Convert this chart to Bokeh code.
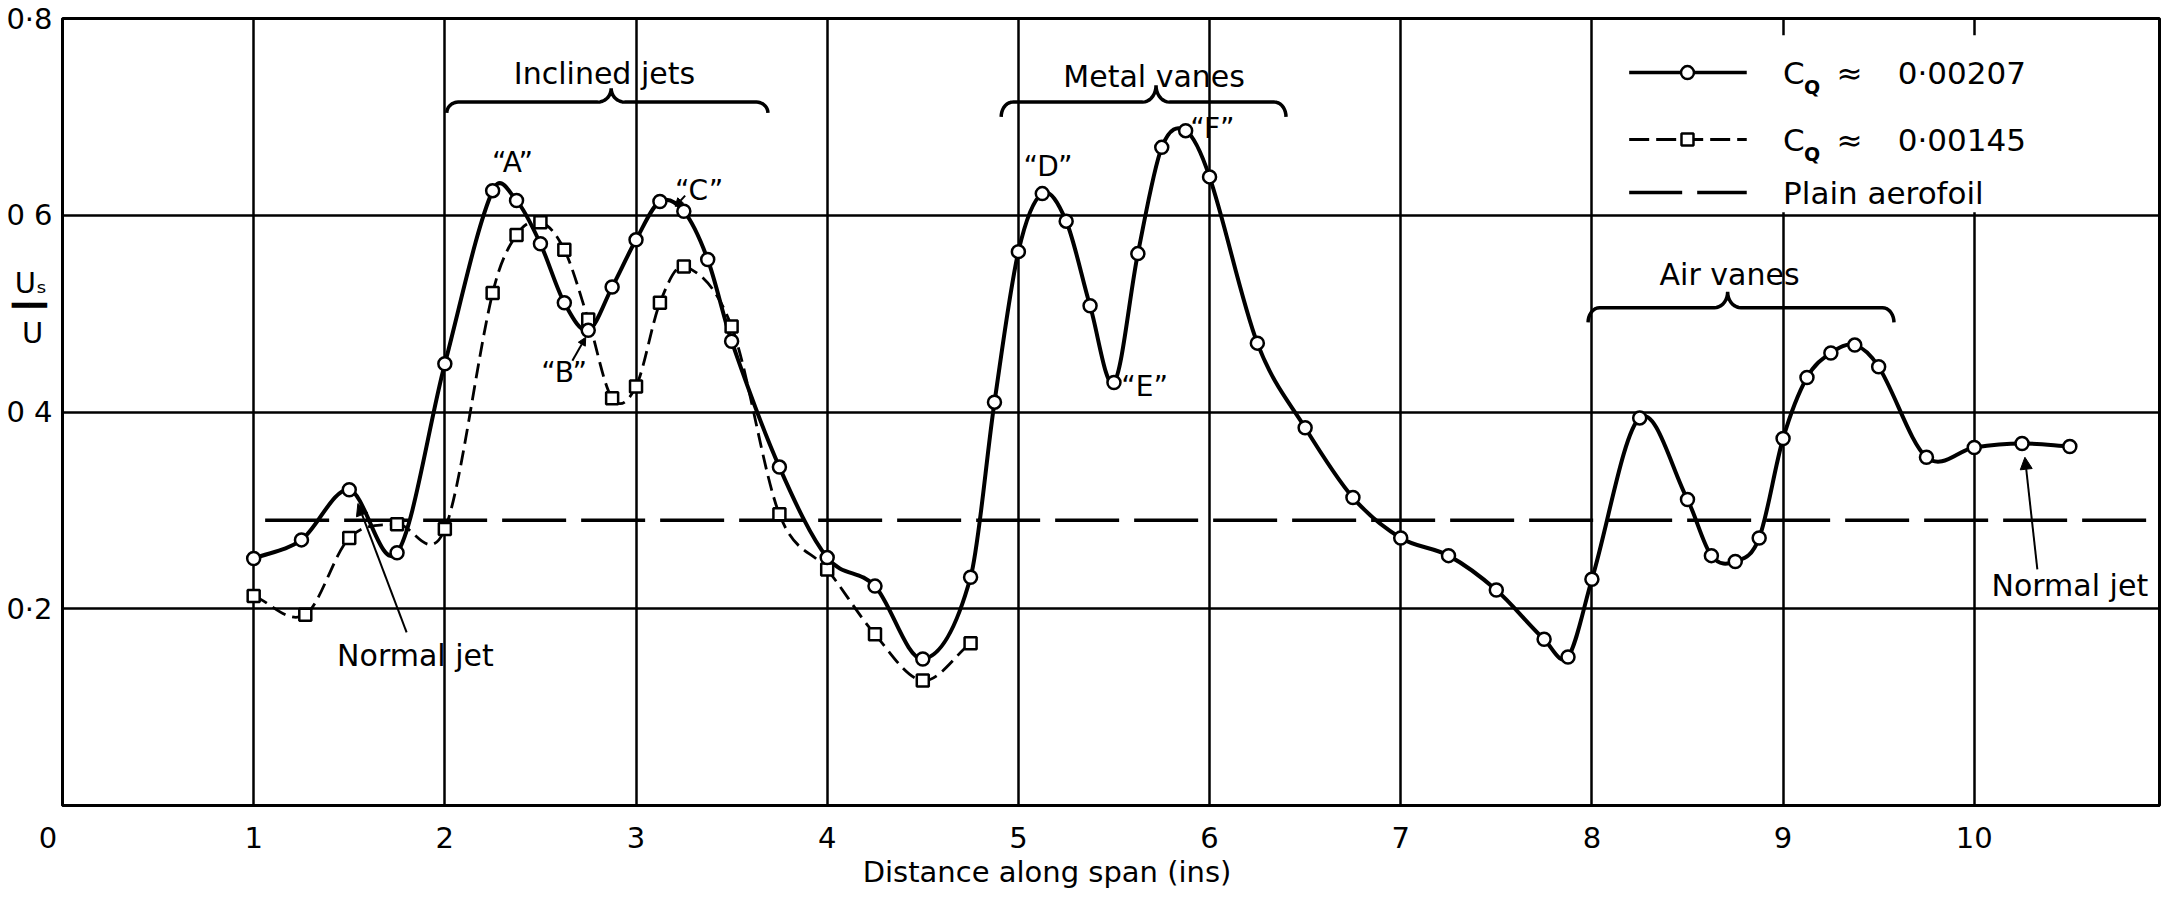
import numpy as np
from bokeh.plotting import figure
from bokeh.models import FixedTicker, Arrow, NormalHead
from bokeh.core.properties import value
from bokeh.embed import file_html
from bokeh.resources import INLINE

FONT = "DejaVu Sans"

# ---------------- data ----------------
# C_Q ~ 0.00207 (solid line, circles)
x_hi = [1.0, 1.25, 1.5, 1.75, 2.0, 2.25, 2.375, 2.5, 2.625, 2.75, 2.875, 3.0, 3.125, 3.25,
        3.375, 3.5, 3.75, 4.0, 4.25, 4.5, 4.75, 4.875, 5.0, 5.125, 5.25, 5.375, 5.5, 5.625,
        5.75, 5.875, 6.0, 6.25, 6.5, 6.75, 7.0, 7.25, 7.5, 7.75, 7.875, 8.0, 8.25, 8.5,
        8.625, 8.75, 8.875, 9.0, 9.125, 9.25, 9.375, 9.5, 9.75, 10.0, 10.25, 10.5]
y_hi = [0.251, 0.270, 0.321, 0.257, 0.449, 0.625, 0.615, 0.571, 0.511, 0.483, 0.527, 0.575,
        0.614, 0.604, 0.555, 0.472, 0.344, 0.252, 0.223, 0.149, 0.232, 0.410, 0.563, 0.622,
        0.594, 0.508, 0.430, 0.561, 0.669, 0.686, 0.639, 0.470, 0.384, 0.313, 0.272, 0.254,
        0.219, 0.169, 0.151, 0.230, 0.394, 0.311, 0.254, 0.248, 0.272, 0.373, 0.435, 0.460,
        0.468, 0.446, 0.354, 0.364, 0.368, 0.365]

# C_Q ~ 0.00145 (dashed line, squares)
x_lo = [1.0, 1.27, 1.5, 1.75, 2.0, 2.25, 2.375, 2.5, 2.625, 2.75, 2.875, 3.0, 3.125, 3.25,
        3.5, 3.75, 4.0, 4.25, 4.5, 4.75]
y_lo = [0.213, 0.194, 0.272, 0.286, 0.281, 0.521, 0.580, 0.593, 0.565, 0.494, 0.414, 0.426,
        0.511, 0.548, 0.487, 0.296, 0.240, 0.174, 0.127, 0.165]

# Plain aerofoil
x_plain = [1.06, 10.92]
y_plain = [0.29, 0.29]

x_ticks = [0, 1, 2, 3, 4, 5, 6, 7, 8, 9, 10]
x_tick_labels = ["0\u2003", "1", "2", "3", "4", "5", "6", "7", "8", "9", "10"]
y_ticks = [0.2, 0.4, 0.6, 0.8]
y_tick_labels = ["0·2", "0 4", "0 6", "0·8"]

# x-axis title, written as a second line under the tick labels
x_title_pos = 5.15
x_title = "Distance along span (ins)"

# y-axis title  U_s / U  (written as labels on the y axis)
y_title_pos = [0.531, 0.509, 0.480]
y_title_parts = ["Uₛ\u2009", "━━\u2009", "U\u00a0"]

legend_values = ["0·00207", "0·00145"]
legend_plain = "Plain  aerofoil"


def smooth_segments(xs, ys):
    xs = np.asarray(xs, float)
    ys = np.asarray(ys, float)
    n = len(xs)
    m = np.zeros(n)
    for i in range(n):
        if i == 0:
            m[i] = (ys[1] - ys[0]) / (xs[1] - xs[0])
        elif i == n - 1:
            m[i] = (ys[-1] - ys[-2]) / (xs[-1] - xs[-2])
        else:
            m[i] = (ys[i + 1] - ys[i - 1]) / (xs[i + 1] - xs[i - 1])
    h = xs[1:] - xs[:-1]
    return dict(x0=xs[:-1], y0=ys[:-1], x1=xs[1:], y1=ys[1:],
                cx0=xs[:-1] + h / 3, cy0=ys[:-1] + m[:-1] * h / 3,
                cx1=xs[1:] - h / 3, cy1=ys[1:] - m[1:] * h / 3)


def brace(xl, xm, xr, y, h, d, rx_end=0.06, rx_mid=0.07):
    xs, ys = [], []
    t = np.linspace(np.pi, np.pi / 2, 10)
    xs += list(xl + rx_end + rx_end * np.cos(t)); ys += list(y - d + d * np.sin(t))
    t = np.linspace(-np.pi / 2, 0, 10)
    xs += list(xm - rx_mid + rx_mid * np.cos(t)); ys += list(y + h + h * np.sin(t))
    t = np.linspace(np.pi, 1.5 * np.pi, 10)
    xs += list(xm + rx_mid + rx_mid * np.cos(t)); ys += list(y + h + h * np.sin(t))
    t = np.linspace(np.pi / 2, 0, 10)
    xs += list(xr - rx_end + rx_end * np.cos(t)); ys += list(y - d + d * np.sin(t))
    return xs, ys


p = figure(width=2161, height=892, x_range=(0, 10.969), y_range=(0, 0.8),
           output_backend="svg", toolbar_location=None,
           min_border_left=62, min_border_right=2, min_border_top=18, min_border_bottom=87)
p.background_fill_color = "white"
p.border_fill_color = "white"
p.outline_line_color = "black"
p.outline_line_width = 3

p.xaxis.ticker = FixedTicker(ticks=x_ticks + [x_title_pos])
xov = {t: l for t, l in zip(x_ticks, x_tick_labels)}
xov[x_title_pos] = "\n" + x_title
p.xaxis.major_label_overrides = xov
p.yaxis.ticker = FixedTicker(ticks=y_ticks + y_title_pos)
ov = {t: l for t, l in zip(y_ticks, y_tick_labels)}
ov.update({t: l for t, l in zip(y_title_pos, y_title_parts)})
p.yaxis.major_label_overrides = ov
for ax in (p.xaxis, p.yaxis):
    ax.major_tick_in = 0
    ax.major_tick_out = 0
    ax.minor_tick_in = 0
    ax.minor_tick_out = 0
    ax.axis_line_color = "black"
    ax.axis_line_width = 3
    ax.major_label_text_font = FONT
    ax.major_label_text_font_size = "29px"
    ax.major_label_text_color = "black"
p.xaxis.major_label_text_line_height = 1.0
p.xaxis.major_label_standoff = 15
p.yaxis.major_label_standoff = 10

p.xgrid.ticker = FixedTicker(ticks=x_ticks)
p.ygrid.ticker = FixedTicker(ticks=y_ticks)
for g in (p.xgrid, p.ygrid):
    g.grid_line_color = "black"
    g.grid_line_width = 2.5
    g.grid_line_alpha = 1.0

# legend box (white cell)
p.quad(left=8.012, right=10.96, bottom=0.603, top=0.783, fill_color="white", line_color=None)

# plain aerofoil
p.line(x_plain, y_plain, line_color="black", line_width=3.5, line_dash="64 15")

# dashed series
seg_lo = smooth_segments(x_lo, y_lo)
p.bezier(source=seg_lo, x0="x0", y0="y0", x1="x1", y1="y1", cx0="cx0", cy0="cy0",
         cx1="cx1", cy1="cy1", line_color="black", line_width=2.8, line_dash="15 7")
# solid series
seg_hi = smooth_segments(x_hi, y_hi)
p.bezier(source=seg_hi, x0="x0", y0="y0", x1="x1", y1="y1", cx0="cx0", cy0="cy0",
         cx1="cx1", cy1="cy1", line_color="black", line_width=4)

p.scatter(x_lo, y_lo, marker="square", size=12, fill_color="white", line_color="black", line_width=2.5)
p.scatter(x_hi, y_hi, marker="circle", size=13, fill_color="white", line_color="black", line_width=2.5)

# braces
for xl, xm, xr, yb, hh, dd in [(2.01, 2.87, 3.69, 0.715, 0.014, 0.011),
                               (4.91, 5.72, 6.40, 0.715, 0.017, 0.015),
                               (7.98, 8.71, 9.58, 0.506, 0.016, 0.015)]:
    bx, by = brace(xl, xm, xr, yb, hh, dd)
    p.line(bx, by, line_color="black", line_width=3.5)

# annotation texts
p.text(x=[2.835, 5.71, 8.72], y=[0.744, 0.741, 0.540],
       text=["Inclined jets", "Metal vanes", "Air vanes"],
       text_font=value(FONT), text_font_size="30px", text_align="center",
       text_baseline="middle", text_color="black")
p.text(x=[2.354, 2.624, 3.33, 5.155, 5.66, 6.015], y=[0.654, 0.440, 0.625, 0.650, 0.426, 0.688],
       text=["“A”", "“B”", "“C”", "“D”", "“E”", "“F”"],
       text_font=value(FONT), text_font_size="28px", text_align="center",
       text_baseline="middle", text_color="black")
p.text(x=[1.846, 10.50], y=[0.152, 0.224], text=["Normal jet", "Normal jet"],
       text_font=value(FONT), text_font_size="30px", text_align="center",
       text_baseline="middle", text_color="black")

# leaders / arrows
for xs_, ys_, xe, ye, sz in [(1.80, 0.176, 1.545, 0.307, 12), (10.33, 0.240, 10.265, 0.354, 12),
                             (2.667, 0.452, 2.737, 0.476, 8), (3.257, 0.620, 3.205, 0.609, 8)]:
    p.add_layout(Arrow(x_start=xs_, y_start=ys_, x_end=xe, y_end=ye, line_width=2,
                       line_color="black",
                       end=NormalHead(size=sz, fill_color="black", line_color="black", line_width=1)))

# legend samples
p.line([8.195, 8.81], [0.745, 0.745], line_color="black", line_width=3.5)
p.scatter([8.50], [0.745], marker="circle", size=13, fill_color="white", line_color="black", line_width=2.5)
p.line([8.195, 8.81], [0.677, 0.677], line_color="black", line_width=3, line_dash="20 7")
p.scatter([8.50], [0.677], marker="square", size=12, fill_color="white", line_color="black", line_width=2.5)
p.line([8.195, 8.81], [0.623, 0.623], line_color="black", line_width=3.5, line_dash="53 15")

p.text(x=[9.0, 9.0], y=[0.745, 0.677], text=["C", "C"], text_font=value(FONT),
       text_font_size="31px", text_baseline="middle", text_align="left", text_color="black")
p.text(x=[9.11, 9.11], y=[0.730, 0.662], text=["Q", "Q"], text_font=value(FONT),
       text_font_size="19px", text_font_style="bold", text_baseline="middle", text_align="left",
       text_color="black")
p.text(x=[9.28, 9.28], y=[0.745, 0.677], text=["≈", "≈"], text_font=value(FONT),
       text_font_size="31px", text_baseline="middle", text_align="left", text_color="black")
p.text(x=[9.60, 9.60], y=[0.745, 0.677], text=legend_values, text_font=value(FONT),
       text_font_size="31px", text_baseline="middle", text_align="left", text_color="black")
p.text(x=[9.0], y=[0.623], text=[legend_plain], text_font=value(FONT),
       text_font_size="31px", text_baseline="middle", text_align="left", text_color="black")

open("out.html", "w").write(file_html(p, INLINE))
